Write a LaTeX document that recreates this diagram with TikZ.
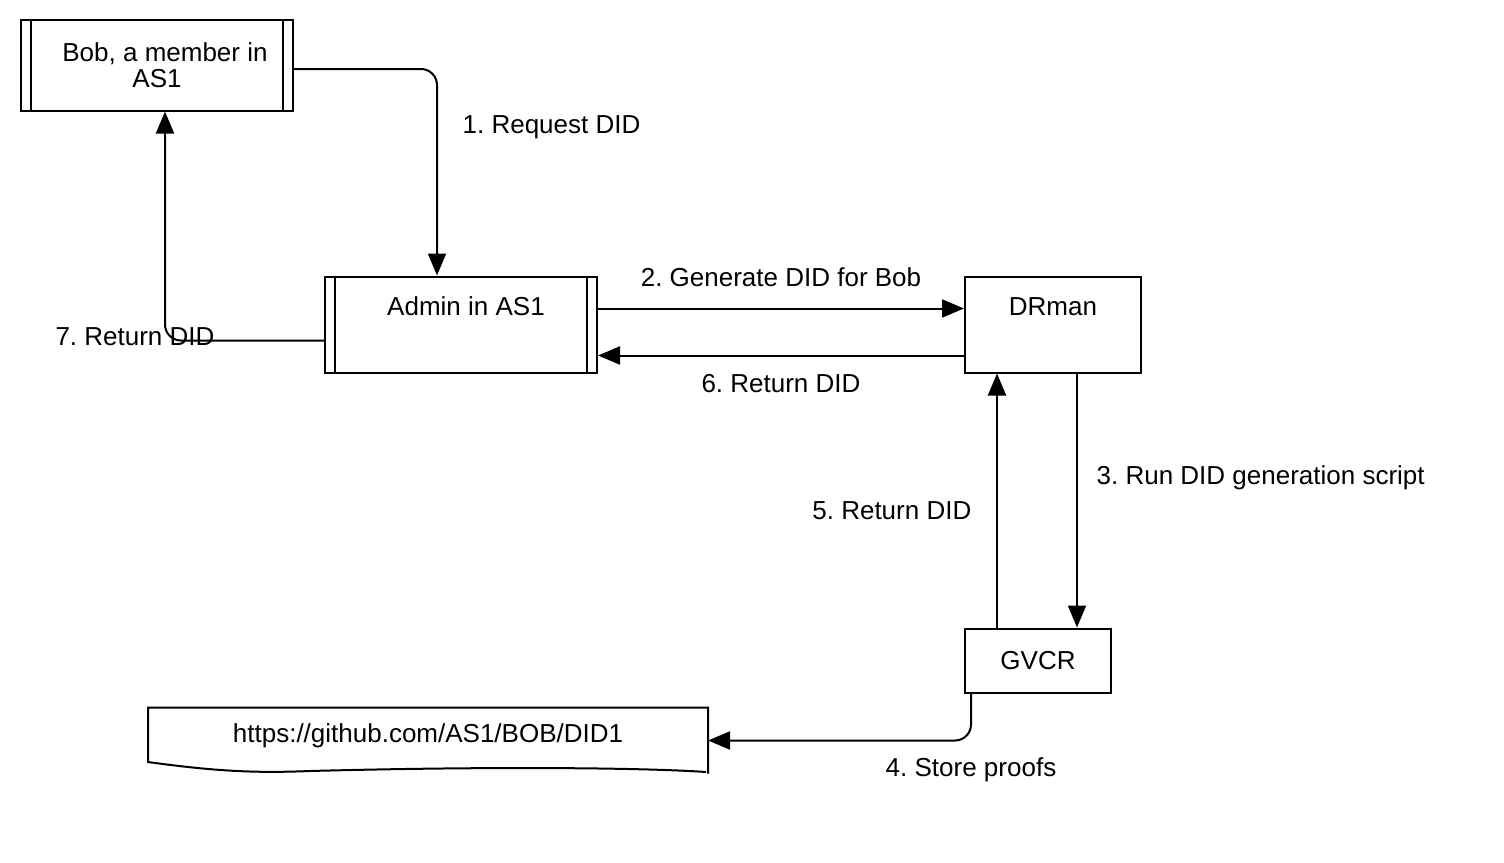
\documentclass[tikz,border=0pt]{standalone}
\usepackage{fontspec}
\setmainfont{Liberation Sans}
\frenchspacing
\usetikzlibrary{arrows.meta}
\tikzset{
  proc/.style={draw, line width=1pt, anchor=north west, inner sep=0pt, align=center,
    font=\fontsize{13}{13}\selectfont},
  subproc/.style={proc, path picture={
    \draw[line width=1pt] ([xshift=5pt]path picture bounding box.north west) -- ([xshift=5pt]path picture bounding box.south west)
      ([xshift=-5pt]path picture bounding box.north east) -- ([xshift=-5pt]path picture bounding box.south east);}},
  toplbl/.style={text height=19.5pt, text depth=28.5pt},
  arr/.style={line width=1pt, -{Triangle[length=11pt,width=9pt]}},
  lbl/.style={font=\fontsize{13}{13}\selectfont}
}
\begin{document}
\begin{tikzpicture}[x=0.5pt,y=-0.5pt]
\useasboundingbox (0,0) rectangle (1504,862);
% boxes
\node [subproc, minimum width=136pt, minimum height=45.5pt] (bob) at (20,18.5) {\hspace{8pt}Bob, a member in\\AS1};
\node [subproc, toplbl, minimum width=136pt] (admin) at (324,275.5) {\hspace{5pt}Admin in AS1};
\node [proc, toplbl, minimum width=88pt] (drman) at (964,275.5) {DRman};
\node [proc, minimum width=73pt, minimum height=32pt] (gvcr) at (964,627.5) {GVCR};
\node [proc, draw=none, minimum width=279pt, text height=17pt, text depth=15pt] (url) at (148,707.5) {https://github.com/AS1/BOB/DID1};
\draw [line width=1pt] (url.south east) -- (url.north east) -- (url.north west) -- (148,762)
  .. controls (220,772) and (260,773) .. (310,771) .. controls (500,766) and (650,768) .. (706,772);
% arrows
\draw [arr, rounded corners=8pt] ([yshift=-2pt]bob.east) -| node [lbl, pos=0.64, right=9pt] {1. Request DID} ([xshift=-12pt]admin.north);
\draw [arr] ([yshift=8pt]admin.east) -- node [lbl, above=7pt] {2. Generate DID for Bob} ([yshift=8pt]drman.west);
\draw [arr] ([xshift=12pt]drman.south) -- node [lbl, pos=0.41, right=6pt] {3. Run DID generation script} ([xshift=12pt]drman.south |- gvcr.north);
\draw [arr, rounded corners=8pt] ([xshift=-33.5pt]gvcr.south) |- node [lbl, below=5pt] {4. Store proofs} (url.east);
\draw [arr] ([xshift=-20.5pt]gvcr.north) -- node [lbl, pos=0.46, left=9pt] {5. Return DID} ([xshift=-20.5pt]gvcr.north |- drman.south);
\draw [arr] ([yshift=-15.5pt]drman.west) -- node [lbl, below=5.5pt] {6. Return DID} ([yshift=-15.5pt]admin.east);
\draw [arr, rounded corners=8pt] ([yshift=-8pt]admin.west) -| node [lbl, xshift=-15pt, yshift=2pt] {7. Return DID} ([xshift=4pt]bob.south);
\end{tikzpicture}
\end{document}
